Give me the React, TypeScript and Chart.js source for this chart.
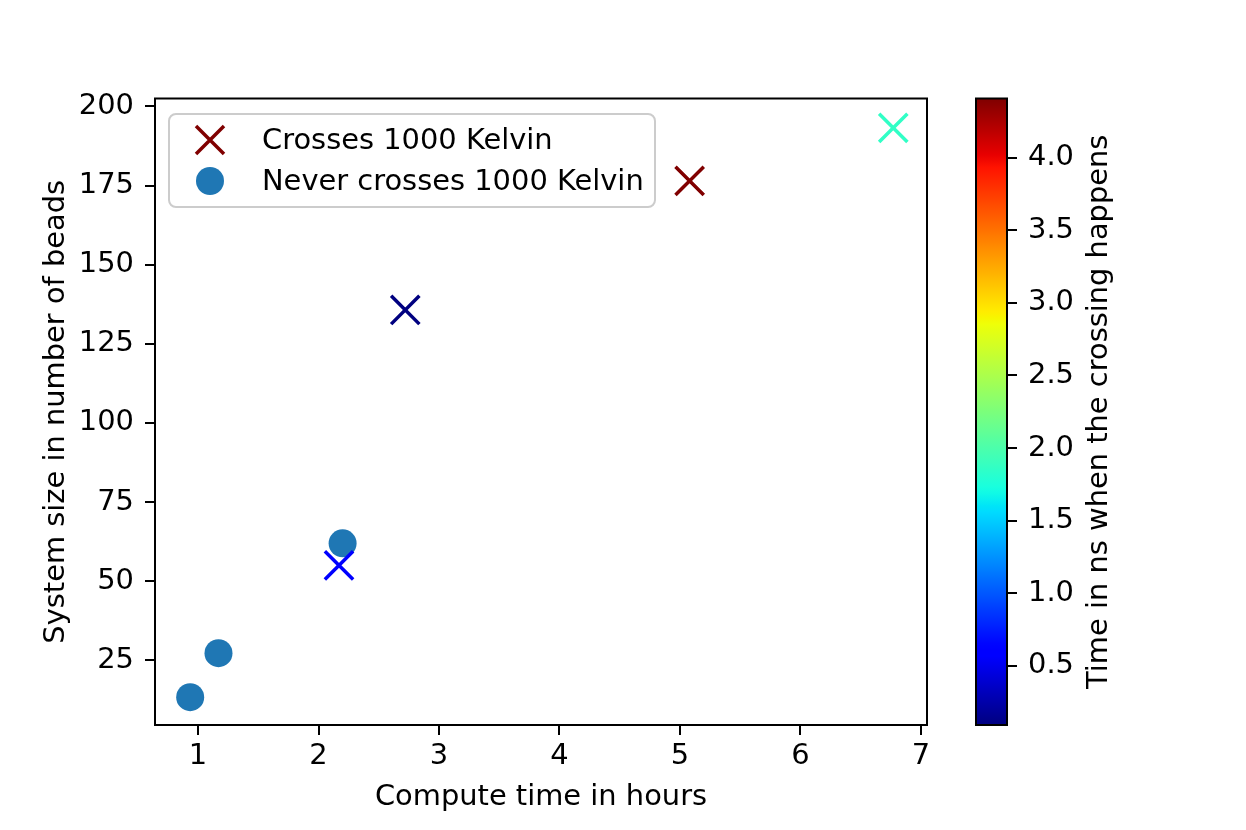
import React, { useEffect, useRef } from "react";
import { Chart, registerables } from "chart.js";

Chart.register(...registerables);

// ---- data ----
const crossHours = [2.72, 5.08, 6.77, 2.17];
const crossBeads = [135.7, 176.5, 193.2, 55.0];
const crossTimes = [0.09, 4.41, 1.86, 0.57];
const neverHours = [0.935, 1.17, 2.2];
const neverBeads = [13.4, 27.3, 62.0];
const xTicks = [1, 2, 3, 4, 5, 6, 7];
const yTicks = [25, 50, 75, 100, 125, 150, 175, 200];
const cbTicks = [0.5, 1.0, 1.5, 2.0, 2.5, 3.0, 3.5, 4.0];
const crossLabel = "Crosses 1000 Kelvin";
const neverLabel = "Never crosses 1000 Kelvin";
const xTitle = "Compute time in hours";
const yTitle = "System size in number of beads";
const cbTitle = "Time in ns when the crossing happens";

// ---- jet colormap ----
const jetR: number[][] = [[0, 0], [0.35, 0], [0.66, 1], [0.89, 1], [1, 0.5]];
const jetG: number[][] = [[0, 0], [0.125, 0], [0.375, 1], [0.64, 1], [0.91, 0], [1, 0]];
const jetB: number[][] = [[0, 0.5], [0.11, 1], [0.34, 1], [0.65, 0], [1, 0]];
function seg(x: number, pts: number[][]) {
  for (let i = 1; i < pts.length; i++) {
    if (x <= pts[i][0]) {
      const [x0, y0] = pts[i - 1];
      const [x1, y1] = pts[i];
      return y0 + ((y1 - y0) * (x - x0)) / (x1 - x0);
    }
  }
  return pts[pts.length - 1][1];
}
function jet(t: number) {
  const c = Math.max(0, Math.min(1, t));
  const r = Math.round(seg(c, jetR) * 255);
  const g = Math.round(seg(c, jetG) * 255);
  const b = Math.round(seg(c, jetB) * 255);
  return `rgb(${r},${g},${b})`;
}

const FONT = "'DejaVu Sans', sans-serif";
const FS = 28.9;
const W = 1246;
const H = 830;

export default function App() {
  const mainRef = useRef<HTMLCanvasElement>(null);
  const cbRef = useRef<HTMLCanvasElement>(null);

  useEffect(() => {
    document.body.style.margin = "0";
    const cbMin = Math.min(...crossTimes);
    const cbMax = Math.max(...crossTimes);
    const norm = (v: number) => (v - cbMin) / (cbMax - cbMin);
    const crossColors = crossTimes.map((t) => jet(norm(t)));

    const frame = {
      id: "frame",
      afterDraw(chart: any) {
        const { ctx, chartArea: a } = chart;
        ctx.save();
        ctx.strokeStyle = "#000";
        ctx.lineWidth = 2;
        ctx.strokeRect(a.left, a.top, a.right - a.left, a.bottom - a.top);
        // legend
        const lx = 169, ly = 114, lw = 486, lh = 93, r = 7;
        ctx.beginPath();
        ctx.moveTo(lx + r, ly);
        ctx.arcTo(lx + lw, ly, lx + lw, ly + lh, r);
        ctx.arcTo(lx + lw, ly + lh, lx, ly + lh, r);
        ctx.arcTo(lx, ly + lh, lx, ly, r);
        ctx.arcTo(lx, ly, lx + lw, ly, r);
        ctx.closePath();
        ctx.fillStyle = "rgba(255,255,255,0.8)";
        ctx.fill();
        ctx.strokeStyle = "#cccccc";
        ctx.lineWidth = 2;
        ctx.stroke();
        const ds = chart.data.datasets;
        // cross marker
        ctx.strokeStyle = jet(1);
        ctx.lineWidth = 3.5;
        ctx.beginPath();
        const h = 14;
        ctx.moveTo(210 - h, 140 - h);
        ctx.lineTo(210 + h, 140 + h);
        ctx.moveTo(210 - h, 140 + h);
        ctx.lineTo(210 + h, 140 - h);
        ctx.stroke();
        // circle marker
        ctx.fillStyle = "#1f77b4";
        ctx.beginPath();
        ctx.arc(210, 181, 14, 0, Math.PI * 2);
        ctx.fill();
        ctx.fillStyle = "#000";
        ctx.font = `${FS}px ${FONT}`;
        ctx.textBaseline = "middle";
        ctx.textAlign = "left";
        ctx.fillText(ds[0].label, 262, 141);
        ctx.fillText(ds[1].label, 262, 182);
        ctx.restore();
      },
    };

    const main = new Chart(mainRef.current!, {
      type: "scatter",
      data: {
        datasets: [
          {
            label: crossLabel,
            data: crossHours.map((x, i) => ({ x, y: crossBeads[i] })),
            pointStyle: "crossRot",
            pointRadius: 20,
            pointHoverRadius: 20,
            borderWidth: 3.5,
            pointBorderWidth: 3.5,
            pointHoverBorderWidth: 3.5,
            pointBorderColor: crossColors,
            pointBackgroundColor: crossColors,
          },
          {
            label: neverLabel,
            data: neverHours.map((x, i) => ({ x, y: neverBeads[i] })),
            pointStyle: "circle",
            pointRadius: 14,
            pointHoverRadius: 14,
            pointBorderWidth: 0,
            pointBackgroundColor: "#1f77b4",
            pointBorderColor: "#1f77b4",
          },
        ],
      },
      options: {
        responsive: false,
        animation: false,
        devicePixelRatio: 1,
        events: [],
        layout: { padding: { left: 0, top: 98.5, right: W - 927, bottom: 0 } },
        plugins: { legend: { display: false }, tooltip: { enabled: false } },
        scales: {
          x: {
            type: "linear",
            min: 0.643,
            max: 7.05,
            afterBuildTicks: (s: any) => {
              s.ticks = xTicks.map((v) => ({ value: v }));
            },
            afterFit: (s: any) => {
              s.height = H - 725;
            },
            ticks: {
              color: "#000",
              font: { family: FONT, size: FS },
              padding: 4,
              maxRotation: 0,
              autoSkip: false,
              callback: (v: any) => String(v),
            },
            grid: { drawOnChartArea: false, drawTicks: true, tickLength: 10, color: "#000", lineWidth: 2 },
            border: { display: false },
            title: {
              display: true,
              text: xTitle,
              color: "#000",
              font: { family: FONT, size: FS },
              padding: { top: 0, bottom: 15 },
            },
          },
          y: {
            type: "linear",
            min: 4.6,
            max: 202.5,
            afterBuildTicks: (s: any) => {
              s.ticks = yTicks.map((v) => ({ value: v }));
            },
            afterFit: (s: any) => {
              s.width = 155;
            },
            ticks: {
              color: "#000",
              font: { family: FONT, size: FS },
              padding: 11,
              autoSkip: false,
              callback: (v: any) => String(v),
            },
            grid: { drawOnChartArea: false, drawTicks: true, tickLength: 10, color: "#000", lineWidth: 2 },
            border: { display: false },
            title: {
              display: true,
              text: yTitle,
              color: "#000",
              font: { family: FONT, size: FS },
              padding: { top: 39, bottom: 0 },
            },
          },
        },
      },
      plugins: [frame],
    } as any);

    const cbPlugin = {
      id: "cb",
      beforeDatasetsDraw(chart: any) {
        const { ctx, chartArea: a } = chart;
        const g = ctx.createLinearGradient(0, a.bottom, 0, a.top);
        for (let i = 0; i <= 100; i++) g.addColorStop(i / 100, jet(i / 100));
        ctx.save();
        ctx.fillStyle = g;
        ctx.fillRect(a.left, a.top, a.right - a.left, a.bottom - a.top);
        ctx.restore();
      },
      afterDraw(chart: any) {
        const { ctx, chartArea: a } = chart;
        ctx.save();
        ctx.strokeStyle = "#000";
        ctx.lineWidth = 2;
        ctx.strokeRect(a.left, a.top, a.right - a.left, a.bottom - a.top);
        ctx.translate(1099, (a.top + a.bottom) / 2);
        ctx.rotate(-Math.PI / 2);
        ctx.fillStyle = "#000";
        ctx.font = `${FS}px ${FONT}`;
        ctx.textAlign = "center";
        ctx.textBaseline = "middle";
        ctx.fillText(cbTitle, 0, 0);
        ctx.restore();
      },
    };

    const cb = new Chart(cbRef.current!, {
      type: "scatter",
      data: { datasets: [] },
      options: {
        responsive: false,
        animation: false,
        devicePixelRatio: 1,
        events: [],
        layout: { padding: { left: 976, top: 98.5, right: 125, bottom: H - 725 } },
        plugins: { legend: { display: false }, tooltip: { enabled: false } },
        scales: {
          x: { display: false, min: 0, max: 1 },
          y: {
            type: "linear",
            position: "right",
            min: cbMin,
            max: cbMax,
            afterBuildTicks: (s: any) => {
              s.ticks = cbTicks.map((v) => ({ value: v }));
            },
            afterFit: (s: any) => {
              s.width = 1121 - 1007;
            },
            ticks: {
              color: "#000",
              font: { family: FONT, size: FS },
              padding: 11,
              autoSkip: false,
              callback: (v: any) => Number(v).toFixed(1),
            },
            grid: { drawOnChartArea: false, drawTicks: true, tickLength: 10, color: "#000", lineWidth: 2 },
            border: { display: false },
          },
        },
      },
      plugins: [cbPlugin],
    } as any);

    return () => {
      main.destroy();
      cb.destroy();
    };
  }, []);

  return (
    <div style={{ position: "relative", width: W, height: H, background: "#fff" }}>
      <canvas ref={mainRef} width={W} height={H} style={{ position: "absolute", left: 0, top: 0 }} />
      <canvas ref={cbRef} width={W} height={H} style={{ position: "absolute", left: 0, top: 0 }} />
    </div>
  );
}
